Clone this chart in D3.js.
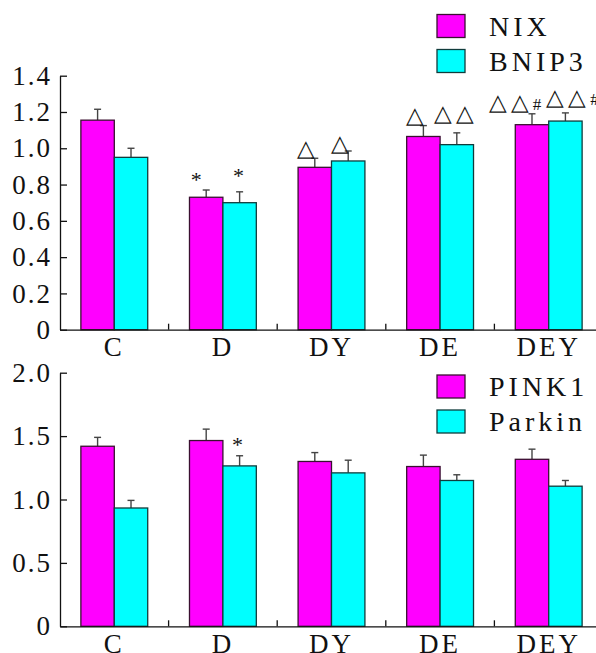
<!DOCTYPE html>
<html>
<head>
<meta charset="utf-8">
<script src="https://cdn.jsdelivr.net/npm/d3@7"></script>
<style>
  body { margin: 0; background: #fff; }
</style>
</head>
<body>
<svg width="596" height="653"></svg>
<script>
const svg = d3.select("svg");
const serif = "Liberation Serif";

const groups = ["C", "D", "DY", "DE", "DEY"];

// panel A
const seriesA = ["NIX", "BNIP3"];
const nixVals = [1.155, 0.73, 0.895, 1.065, 1.13];
const nixErr = [0.06, 0.04, 0.05, 0.06, 0.06];
const bnipVals = [0.95, 0.70, 0.93, 1.02, 1.15];
const bnipErr = [0.05, 0.06, 0.055, 0.065, 0.045];
const ticksA = [0, 0.2, 0.4, 0.6, 0.8, 1.0, 1.2, 1.4];
const marksA = [
  { g: "D", s: 0, t: "*", h: "", dx: -10, dy: -3 },
  { g: "D", s: 1, t: "*", h: "", dx: -1, dy: -9 },
  { g: "DY", s: 0, t: "△", h: "", dx: -7, dy: -2 },
  { g: "DY", s: 1, t: "△", h: "", dx: -6, dy: 0 },
  { g: "DE", s: 0, t: "△", h: "", dx: -6, dy: -3 },
  { g: "DE", s: 1, t: "△△", h: "", dx: -1, dy: -12 },
  { g: "DEY", s: 0, t: "△△", h: "#", dx: -15, dy: -4 },
  { g: "DEY", s: 1, t: "△△", h: "#", dx: 9, dy: -8 }
];

// panel B
const seriesB = ["PINK1", "Parkin"];
const pinkVals = [1.42, 1.465, 1.30, 1.26, 1.317];
const pinkErr = [0.07, 0.09, 0.07, 0.09, 0.08];
const parkinVals = [0.933, 1.265, 1.21, 1.15, 1.105];
const parkinErr = [0.06, 0.08, 0.10, 0.045, 0.045];
const ticksB = [0, 0.5, 1.0, 1.5, 2.0];
const marksB = [
  { g: "D", s: 1, t: "*", h: "", dx: -2, dy: -4 }
];

const colors = ["#ff00ff", "#00ffff"];
const strokes = ["#3a1030", "#103c3c"];

const x = d3.scaleBand().domain(groups).range([60, 603]).padding(0);

function panel(cfg) {
  const y = d3.scaleLinear().domain(cfg.domain).range(cfg.yRange);
  const xs = d3.scaleBand().domain([0, 1]).range([0, x.bandwidth()])
    .paddingInner(0).paddingOuter(0.625);
  const g = svg.append("g");

  const rows = [];
  groups.forEach((grp, i) => {
    cfg.vals.forEach((v, s) => rows.push({ grp, s, v: v[i], e: cfg.errs[s][i] }));
  });

  // error bars (upper half only)
  const eb = g.selectAll(".eb").data(rows).enter().append("g");
  const cx = d => x(d.grp) + xs(d.s) + xs.bandwidth() / 2;
  eb.append("line")
    .attr("x1", cx).attr("x2", cx)
    .attr("y1", d => y(d.v)).attr("y2", d => y(d.v + d.e))
    .attr("stroke", "#444").attr("stroke-width", 1.4);
  eb.append("line")
    .attr("x1", d => cx(d) - 3.5).attr("x2", d => cx(d) + 3.5)
    .attr("y1", d => y(d.v + d.e)).attr("y2", d => y(d.v + d.e))
    .attr("stroke", "#444").attr("stroke-width", 1.4);

  g.selectAll(".bar").data(rows).enter().append("rect")
    .attr("x", d => x(d.grp) + xs(d.s))
    .attr("width", xs.bandwidth())
    .attr("y", d => y(d.v))
    .attr("height", d => y(0) - y(d.v))
    .attr("fill", d => colors[d.s])
    .attr("stroke", d => strokes[d.s])
    .attr("stroke-width", 1.3);

  // y axis, ticks inward
  const ya = g.append("g").attr("transform", "translate(60,0)")
    .call(d3.axisLeft(y).tickValues(cfg.ticks)
      .tickFormat(d => d === 0 ? "0" : d3.format(".1f")(d))
      .tickSizeInner(-7).tickSizeOuter(0).tickPadding(8));
  ya.selectAll("path, line").attr("stroke", "#111").attr("stroke-width", 1.3);
  ya.selectAll("text").style("font-family", serif)
    .style("font-size", "27px").attr("letter-spacing", 2).attr("fill", "#111");

  // x axis, labels centred, boundary ticks pointing up
  const xa = g.append("g").attr("transform", `translate(0,${y(0)})`)
    .call(d3.axisBottom(x).tickSize(0).tickPadding(cfg.xPad));
  xa.selectAll("path").attr("stroke", "#111").attr("stroke-width", 1.3);
  xa.selectAll("text").style("font-family", serif)
    .style("font-size", "27px").attr("letter-spacing", 3).attr("fill", "#111");
  xa.selectAll(".bnd").data(groups.slice(1)).enter().append("line")
    .attr("x1", d => x(d)).attr("x2", d => x(d))
    .attr("y1", 0).attr("y2", -6)
    .attr("stroke", "#111").attr("stroke-width", 1.3);

  // significance marks
  const byKey = new Map(rows.map(r => [r.grp + "|" + r.s, r]));
  const mk = g.selectAll(".mk").data(cfg.marks).enter().append("text")
    .attr("x", d => cx(byKey.get(d.g + "|" + d.s)) + d.dx)
    .attr("y", d => { const r = byKey.get(d.g + "|" + d.s); return y(r.v + r.e) + d.dy; })
    .attr("text-anchor", "middle")
    .attr("fill", "#111")
    .style("font-family", serif)
    .style("font-size", d => d.t === "*" ? "22px" : "23px")
    .attr("letter-spacing", d => d.t === "*" ? 0 : 4);
  mk.append("tspan").text(d => d.t);
  mk.filter(d => d.h).append("tspan").style("font-size", "17px").text(d => d.h);

  // legend
  const lg = g.append("g");
  cfg.series.forEach((name, i) => {
    const ly = cfg.legendY + i * 35;
    lg.append("rect").attr("x", 437).attr("y", ly).attr("width", 28).attr("height", 23)
      .attr("fill", colors[i]).attr("stroke", strokes[i]).attr("stroke-width", 1.3);
    lg.append("text").attr("x", 489).attr("y", ly + 21)
      .attr("fill", "#111")
      .style("font-family", serif).style("font-size", "28px")
      .attr("letter-spacing", 4).text(name);
  });
}

panel({
  domain: [0, 1.4], yRange: [329.7, 75.7], ticks: ticksA, xPad: 7,
  vals: [nixVals, bnipVals], errs: [nixErr, bnipErr],
  series: seriesA, marks: marksA, legendY: 14.5
});

panel({
  domain: [0, 2.0], yRange: [626.3, 372.7], ticks: ticksB, xPad: 8,
  vals: [pinkVals, parkinVals], errs: [pinkErr, parkinErr],
  series: seriesB, marks: marksB, legendY: 375
});
</script>
</body>
</html>
